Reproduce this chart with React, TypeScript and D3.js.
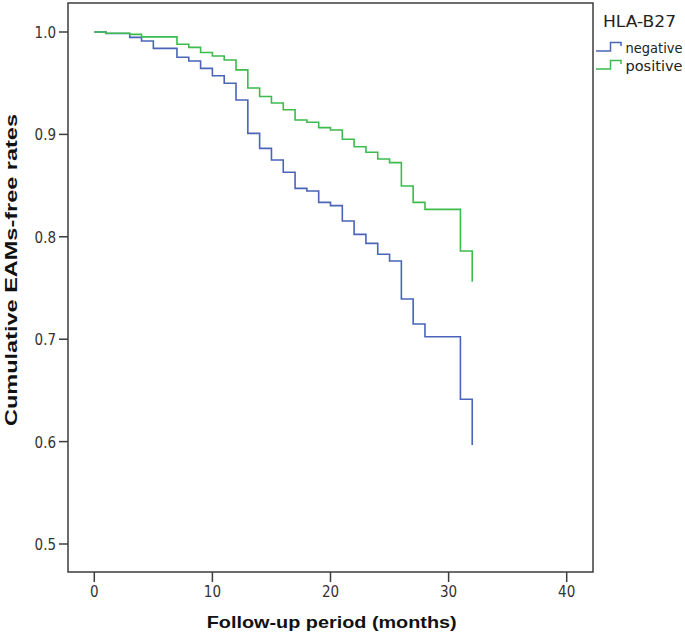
import React from "react";
import * as d3 from "d3";

const negTimes = [0, 1, 3, 4, 5, 7, 8, 9, 10, 11, 12, 13, 14, 15, 16, 17, 18, 19, 20, 21, 22, 23, 24, 25, 26, 27, 28, 31, 32];
const negValues = [1.0, 0.9985, 0.9948, 0.9912, 0.984, 0.9753, 0.9717, 0.9645, 0.9573, 0.9499, 0.9336, 0.901, 0.8864, 0.875, 0.863, 0.8473, 0.8447, 0.8336, 0.8304, 0.8154, 0.8024, 0.7936, 0.7829, 0.7764, 0.7393, 0.7148, 0.7024, 0.6413, 0.5967];

const posTimes = [0, 1, 3, 4, 7, 8, 9, 10, 11, 12, 13, 14, 15, 16, 17, 18, 19, 20, 21, 22, 23, 24, 25, 26, 27, 28, 31, 32];
const posValues = [1.0, 0.9988, 0.9977, 0.9952, 0.988, 0.985, 0.98, 0.9765, 0.9727, 0.963, 0.9453, 0.937, 0.9307, 0.924, 0.914, 0.9118, 0.9066, 0.9043, 0.8952, 0.888, 0.8825, 0.876, 0.8724, 0.8496, 0.8336, 0.8268, 0.7862, 0.7562];

const xTicks = [0, 10, 20, 30, 40];
const yTicks = [0.5, 0.6, 0.7, 0.8, 0.9, 1.0];
const seriesNames = ["negative", "positive"];
const seriesColors = ["#4a64b8", "#3dbb4d"];

const W = 685, H = 636;
const L = 68, R = 593, T = 3, B = 572;

export default function App() {
  const x = d3.scaleLinear().domain([0, 40]).range([94.3, 566.7]);
  const y = d3.scaleLinear().domain([0.5, 1.0]).range([544, 32]);
  const line = d3.line<[number, number]>()
    .x(d => x(d[0]))
    .y(d => y(d[1]))
    .curve(d3.curveStepAfter);
  const series = [
    negTimes.map((t, i) => [t, negValues[i]] as [number, number]),
    posTimes.map((t, i) => [t, posValues[i]] as [number, number]),
  ];
  const tickFont = "'DejaVu Sans Condensed', 'DejaVu Sans', sans-serif";
  const axisColor = "#3c3c3c";
  return (
    <svg width={W} height={H} style={{ position: "absolute", left: 0, top: 0, background: "#fff" }}>
      <rect x={L} y={T} width={R - L} height={B - T} fill="none" stroke={axisColor} strokeWidth={1.5} />
      {yTicks.map(v => (
        <g key={v}>
          <line x1={59} x2={L} y1={y(v)} y2={y(v)} stroke={axisColor} strokeWidth={1.5} />
          <text x={56} y={y(v) + 6} textAnchor="end" fontFamily={tickFont} fontSize={15} fill="#333">
            {v.toFixed(1)}
          </text>
        </g>
      ))}
      {xTicks.map(v => (
        <g key={v}>
          <line x1={x(v)} x2={x(v)} y1={B} y2={582} stroke={axisColor} strokeWidth={1.5} />
          <text x={x(v)} y={597} textAnchor="middle" fontFamily={tickFont} fontSize={15} fill="#333">
            {v}
          </text>
        </g>
      ))}
      {series.map((s, i) => (
        <path key={i} d={line(s) || ""} fill="none" stroke={seriesColors[i]} strokeWidth={1.6} />
      ))}
      <text x={331.7} y={628} textAnchor="middle" fontFamily="'Liberation Sans', Arial, sans-serif" fontWeight="bold" fontSize={17} fill="#111" textLength={250} lengthAdjust="spacingAndGlyphs">
        Follow-up period (months)
      </text>
      <text transform={`translate(17, 270) rotate(-90)`} textAnchor="middle" fontFamily="'Liberation Sans', Arial, sans-serif" fontWeight="bold" fontSize={17} fill="#111" textLength={312} lengthAdjust="spacingAndGlyphs">
        Cumulative EAMs-free rates
      </text>
      <text x={603} y={27} fontFamily={tickFont} fontSize={15} fill="#222" textLength={73} lengthAdjust="spacingAndGlyphs">
        HLA-B27
      </text>
      {seriesNames.map((n, i) => {
        const yl = 51 + i * 18;
        return (
          <g key={n}>
            <path d={`M596,${yl}H610.5V${yl - 8.5}H621V${yl - 5}`} fill="none" stroke={seriesColors[i]} strokeWidth={1.5} />
            <text x={625.5} y={yl + 2} fontFamily={tickFont} fontSize={14} fill="#222" textLength={57} lengthAdjust="spacingAndGlyphs">
              {n}
            </text>
          </g>
        );
      })}
    </svg>
  );
}
